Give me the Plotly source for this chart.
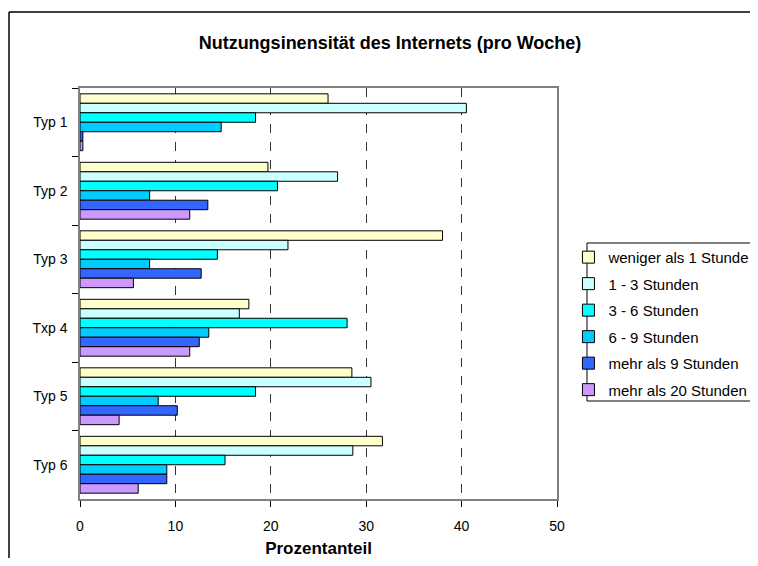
import plotly.graph_objects as go

# Nutzungsintensität, Prozentanteil je Typ
typen = ["Typ 1", "Typ 2", "Typ 3", "Txp 4", "Typ 5", "Typ 6"]

weniger_1 = [26.0, 19.7, 38.0, 17.7, 28.5, 31.7]
std_1_3 = [40.5, 27.0, 21.8, 16.7, 30.5, 28.6]
std_3_6 = [18.4, 20.7, 14.4, 28.0, 18.4, 15.2]
std_6_9 = [14.8, 7.3, 7.3, 13.5, 8.2, 9.1]
mehr_9 = [0.3, 13.4, 12.7, 12.5, 10.2, 9.1]
mehr_20 = [0.3, 11.5, 5.6, 11.5, 4.1, 6.1]

serien = [
    ("weniger als 1 Stunde", weniger_1, "#FFFFCC"),
    ("1 - 3 Stunden", std_1_3, "#CCFFFF"),
    ("3 - 6 Stunden", std_3_6, "#00FFFF"),
    ("6 - 9 Stunden", std_6_9, "#00CCFF"),
    ("mehr als 9 Stunden", mehr_9, "#3366FF"),
    ("mehr als 20 Stunden", mehr_20, "#CC99FF"),
]

fig = go.Figure()
for i, (name, vals, col) in enumerate(serien):
    fig.add_trace(go.Bar(
        y=typen, x=vals, name=name, orientation="h",
        legendgroup=str(i),
        marker=dict(color=col, line=dict(color="black", width=1)),
    ))

font = "Arial, Liberation Sans, sans-serif"

# the page body has an 8px margin: figure is laid out 8px up/left and kept
# small enough that the page does not scroll
W, H = 742, 550
fig.update_layout(
    width=W, height=H,
    margin=dict(l=72, r=W - 549, t=80, b=H - 491, autoexpand=False),
    paper_bgcolor="white", plot_bgcolor="white",
    font=dict(family=font, size=14, color="black"),
    barmode="group", bargap=0.17, bargroupgap=0,
    title=dict(text="<b>Nutzungsinensität des Internets (pro Woche)</b>",
               x=382 / W, xanchor="center", y=1 - 35 / H, yanchor="middle",
               font=dict(size=18)),
    legend=dict(x=1.024, xanchor="left", y=0.628, yanchor="top",
                borderwidth=0, bgcolor="rgba(0,0,0,0)",
                tracegroupgap=4, itemwidth=30, font=dict(size=15)),
    showlegend=True,
)

fig.update_xaxes(
    range=[0, 50], dtick=10, ticks="outside", ticklen=6, tickcolor="black",
    showline=True, linecolor="#808080", linewidth=1.5, mirror=True,
    showgrid=True, gridcolor="#333333", griddash="dash", gridwidth=1,
    zeroline=False, ticklabelstandoff=7,
    title=dict(text="<b>Prozentanteil</b>", standoff=21),
)
fig.update_yaxes(
    autorange="reversed", ticks="outside", ticklen=6, tickcolor="black",
    tickson="boundaries", showline=True, linecolor="#808080", linewidth=1.5,
    mirror=True, showgrid=False, ticklabelstandoff=8,
)

# Rahmen um das gesamte Diagramm (nur oben und links sichtbar)
fx0 = (1 - 72) / 477
fy1 = (491 - 4) / 411
fig.add_shape(type="line", xref="paper", yref="paper", x0=fx0, x1=1.6, y0=fy1, y1=fy1,
              line=dict(color="black", width=1.5))
fig.add_shape(type="line", xref="paper", yref="paper", x0=fx0, x1=fx0, y0=-0.5, y1=fy1,
              line=dict(color="black", width=1.5))
# Legendenrahmen
lx0 = (579 - 72) / 477
ly0 = (491 - 393) / 411
ly1 = (491 - 235) / 411
for xa, xb, ya, yb in [(lx0, 1.6, ly1, ly1), (lx0, 1.6, ly0, ly0), (lx0, lx0, ly0, ly1)]:
    fig.add_shape(type="line", xref="paper", yref="paper", x0=xa, x1=xb, y0=ya, y1=yb,
                  line=dict(color="black", width=1))

fig.write_html("out.html")
